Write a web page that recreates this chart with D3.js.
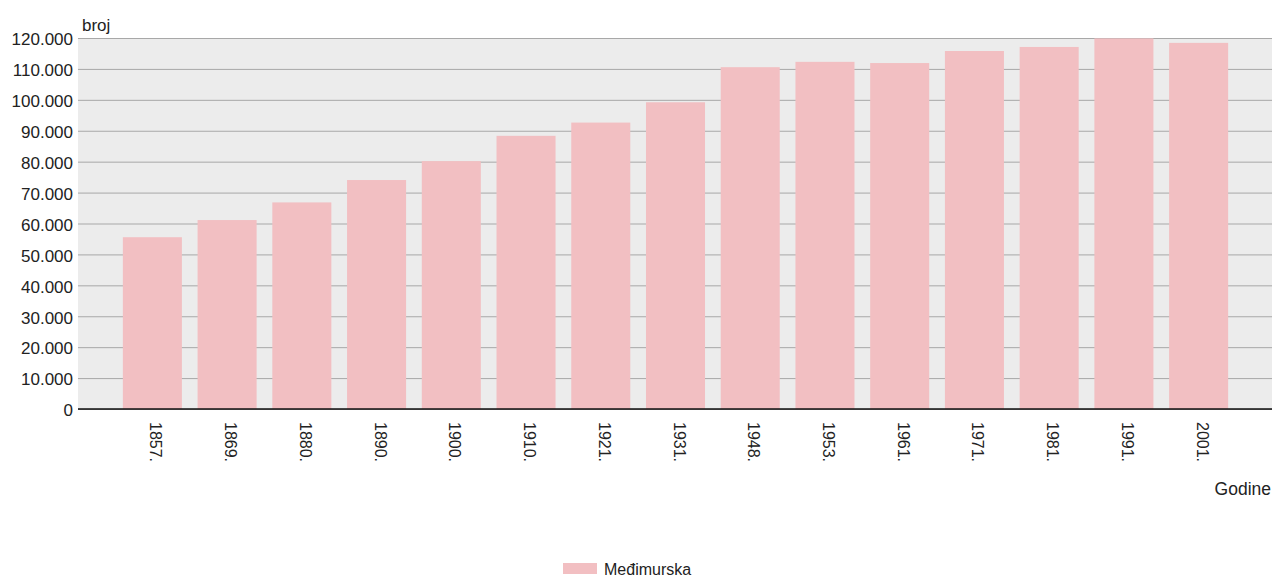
<!DOCTYPE html>
<html>
<head>
<meta charset="utf-8">
<script src="https://cdn.jsdelivr.net/npm/d3@7"></script>
<style>
  body { margin: 0; background: #fff; }
  text { font-family: "Liberation Sans", Arial, sans-serif; fill: #222; }
</style>
</head>
<body>
<script>
// census years and population counts
var years = ["1857.", "1869.", "1880.", "1890.", "1900.", "1910.", "1921.", "1931.",
  "1948.", "1953.", "1961.", "1971.", "1981.", "1991.", "2001."];
var population = [55569, 61112, 66819, 74062, 80179, 88357, 92642, 99211,
  110563, 112290, 111903, 115792, 117105, 119866, 118426];
var yTicks = [0, 10000, 20000, 30000, 40000, 50000, 60000, 70000, 80000, 90000, 100000, 110000, 120000];
var seriesName = "Međimurska";

var width = 1272,
  height = 577,
  plotLeft = 78,
  plotRight = 1272,
  plotTop = 38,
  plotBottom = 409;

var svg = d3.select("body")
  .append("svg")
  .attr("width", width)
  .attr("height", height);

var fmt = d3.formatLocale({ decimal: ",", thousands: ".", grouping: [3], currency: ["", ""] }).format(",");

//----------scales----------
var xScale = d3.scaleBand()
  .domain(years)
  .range([115, 1236])
  .paddingInner(0.21)
  .paddingOuter(0.105);

var yScale = d3.scaleLinear()
  .domain([0, 120000])
  .range([plotBottom, plotTop]);

//----------plot background----------
svg.append("rect")
  .attr("x", plotLeft)
  .attr("y", plotTop)
  .attr("width", plotRight - plotLeft)
  .attr("height", plotBottom - plotTop)
  .attr("fill", "#ececec");

//----------grid + y labels----------
var yAxis = d3.axisLeft(yScale)
  .tickValues(yTicks)
  .tickSize(-(plotRight - plotLeft))
  .tickPadding(5)
  .tickFormat(fmt);

var gy = svg.append("g")
  .attr("transform", "translate(" + plotLeft + ",0)")
  .call(yAxis);
gy.select(".domain").remove();
gy.selectAll(".tick line").attr("stroke", "#a8a8a8").attr("stroke-width", 1);
gy.selectAll(".tick text")
  .style("font-size", "17px")
  .style("font-family", "Liberation Sans, Arial, sans-serif")
  .attr("fill", "#222")
  .attr("dy", "0.4em");

//----------bars----------
svg.selectAll("rect.bar")
  .data(population)
  .enter()
  .append("rect")
  .attr("class", "bar")
  .attr("x", function (d, i) { return xScale(years[i]); })
  .attr("y", function (d) { return yScale(d); })
  .attr("width", xScale.bandwidth())
  .attr("height", function (d) { return plotBottom - yScale(d); })
  .attr("fill", "#f2bfc2");

//----------x axis----------
var xAxis = d3.axisBottom(xScale).tickSize(0).tickPadding(0);
var gx = svg.append("g")
  .attr("transform", "translate(0," + plotBottom + ")")
  .call(xAxis);
gx.select(".domain").remove();
gx.append("line")
  .attr("x1", plotLeft).attr("x2", plotRight)
  .attr("y1", 0).attr("y2", 0)
  .attr("stroke", "#111").attr("stroke-width", 1.5);
gx.selectAll(".tick text")
  .style("font-size", "16px")
  .style("font-family", "Liberation Sans, Arial, sans-serif")
  .attr("fill", "#222")
  .attr("text-anchor", "start")
  .attr("dy", "0.25em")
  .attr("transform", "translate(2,13) rotate(90)");

//----------axis titles----------
svg.append("text")
  .attr("x", 82)
  .attr("y", 31)
  .style("font-size", "17px")
  .text("broj");

svg.append("text")
  .attr("x", 1271)
  .attr("y", 495)
  .attr("text-anchor", "end")
  .style("font-size", "17.5px")
  .text("Godine");

//----------legend----------
svg.append("rect")
  .attr("x", 563)
  .attr("y", 563)
  .attr("width", 34)
  .attr("height", 11)
  .attr("fill", "#f2bfc2");

svg.append("text")
  .attr("x", 604)
  .attr("y", 575)
  .style("font-size", "16px")
  .text(seriesName);
</script>
</body>
</html>
